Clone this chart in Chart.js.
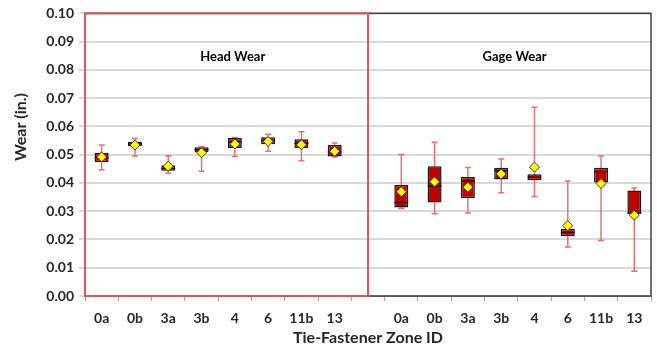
<!DOCTYPE html>
<html>
<head>
<meta charset="utf-8">
<script src="https://cdn.jsdelivr.net/npm/chart.js@4.4.1/dist/chart.umd.min.js"></script>
<style>
  html, body { margin: 0; padding: 0; background: #ffffff; }
  #wrap { width: 657px; height: 348px; position: relative; }
</style>
</head>
<body>
<div id="wrap"><canvas id="c" width="657" height="348"></canvas></div>
<script>
// Zone IDs: Head Wear group, a blank separator slot, then Gage Wear group
const categories = ['0a','0b','3a','3b','4','6','11b','13', '', '0a','0b','3a','3b','4','6','11b','13'];
const whiskerMin = [0.0447,0.0495,0.0434,0.0441,0.0494,0.0512,0.0479,0.0492, null, 0.0310,0.0291,0.0294,0.0365,0.0352,0.0173,0.0196,0.0088];
const quartile1  = [0.0474,0.0530,0.0443,0.0509,0.0524,0.0537,0.0524,0.0494, null, 0.0313,0.0331,0.0347,0.0412,0.0410,0.0211,0.0402,0.0291];
const medianVal  = [0.0490,0.0538,0.0452,0.0518,0.0545,0.0550,0.0540,0.0510, null, 0.0331,0.0389,0.0407,0.0444,0.0420,0.0225,0.0440,0.0293];
const quartile3  = [0.0507,0.0546,0.0463,0.0526,0.0559,0.0562,0.0555,0.0534, null, 0.0393,0.0459,0.0421,0.0454,0.0431,0.0238,0.0454,0.0373];
const whiskerMax = [0.0534,0.0557,0.0495,0.0529,0.0561,0.0572,0.0581,0.0541, null, 0.0501,0.0544,0.0455,0.0485,0.0668,0.0407,0.0495,0.0382];
const meanVal    = [0.0492,0.0534,0.0459,0.0507,0.0538,0.0547,0.0535,0.0512, null, 0.0369,0.0404,0.0385,0.0432,0.0456,0.0249,0.0398,0.0286];
const yTicks = [0.00,0.01,0.02,0.03,0.04,0.05,0.06,0.07,0.08,0.09,0.10];
const groupTitles = ['Head Wear', 'Gage Wear'];
const yTitle = 'Wear (in.)';
const xTitle = 'Tie-Fastener Zone ID';

const boxData = quartile1.map((q, i) => (q === null ? null : [q, quartile3[i]]));

const FONT = 'Lato, "Open Sans", "Liberation Sans", sans-serif';

const boxPlugin = {
  id: 'boxExtras',
  beforeDatasetsDraw(chart) {
    const ctx = chart.ctx;
    const x = chart.scales.x, y = chart.scales.y;
    const a = chart.chartArea;
    // group frames
    const split = x.getPixelForValue(8);
    ctx.save();
    ctx.lineWidth = 1.5;
    ctx.strokeStyle = '#404040';
    ctx.strokeRect(a.left, a.top, a.right - a.left, a.bottom - a.top);
    ctx.lineWidth = 2;
    ctx.strokeStyle = '#d9595a';
    ctx.strokeRect(a.left, a.top, split - a.left, a.bottom - a.top);
    // group titles
    ctx.fillStyle = '#000000';
    ctx.font = 'bold 13px ' + FONT;
    ctx.textAlign = 'center';
    ctx.textBaseline = 'middle';
    const ty = y.getPixelForValue(0.0848);
    ctx.fillText(groupTitles[0], a.left + (a.right - a.left) * 0.261, ty);
    ctx.fillText(groupTitles[1], a.left + (a.right - a.left) * 0.759, ty);
    // y axis title
    ctx.save();
    ctx.translate(21, y.getPixelForValue(0.0598));
    ctx.rotate(-Math.PI / 2);
    ctx.fillStyle = '#262626';
    ctx.font = 'bold 16px ' + FONT;
    ctx.fillText(yTitle, 0, 0);
    ctx.restore();
    // whiskers
    ctx.strokeStyle = 'rgba(224, 90, 90, 0.85)';
    ctx.lineWidth = 1.5;
    for (let i = 0; i < categories.length; i++) {
      if (whiskerMin[i] === null) continue;
      const px = x.getPixelForValue(i);
      const yMin = y.getPixelForValue(whiskerMin[i]);
      const yMax = y.getPixelForValue(whiskerMax[i]);
      ctx.beginPath();
      ctx.moveTo(px, yMin); ctx.lineTo(px, yMax);
      ctx.moveTo(px - 3, yMin); ctx.lineTo(px + 3, yMin);
      ctx.moveTo(px - 3, yMax); ctx.lineTo(px + 3, yMax);
      ctx.stroke();
    }
    ctx.restore();
  },
  afterDatasetDraw(chart, args) {
    if (args.index !== 0) return;
    const ctx = chart.ctx;
    const meta = chart.getDatasetMeta(0);
    const y = chart.scales.y;
    ctx.save();
    ctx.strokeStyle = '#3a0000';
    ctx.lineWidth = 1.2;
    meta.data.forEach((bar, i) => {
      if (medianVal[i] === null || !bar) return;
      const w = bar.width;
      const py = y.getPixelForValue(medianVal[i]);
      ctx.beginPath();
      ctx.moveTo(bar.x - w / 2, py);
      ctx.lineTo(bar.x + w / 2, py);
      ctx.stroke();
    });
    ctx.restore();
  }
};

new Chart(document.getElementById('c'), {
  type: 'bar',
  data: {
    labels: categories,
    datasets: [
      {
        label: 'Box',
        data: boxData,
        backgroundColor: '#c00000',
        borderColor: '#1a1a1a',
        borderWidth: 1.5,
        borderSkipped: false,
        barPercentage: 0.42,
        categoryPercentage: 1.0,
        order: 2
      },
      {
        type: 'line',
        label: 'Mean',
        data: meanVal,
        showLine: false,
        pointStyle: 'rectRot',
        pointRadius: 5,
        pointBackgroundColor: '#ffff00',
        pointBorderColor: '#3a3a3a',
        pointBorderWidth: 1,
        order: 1
      }
    ]
  },
  options: {
    responsive: false,
    animation: false,
    devicePixelRatio: 1,
    layout: { padding: { top: 12, right: 6, left: 0, bottom: 0 } },
    plugins: { legend: { display: false }, tooltip: { enabled: false } },
    scales: {
      x: {
        type: 'category',
        offset: true,
        grid: { display: true, drawOnChartArea: false, offset: true, color: '#a6a6a6', tickLength: 5 },
        border: { display: true, color: '#a6a6a6', width: 1 },
        ticks: {
          autoSkip: false, maxRotation: 0, color: '#262626', padding: 9,
          font: { family: FONT, size: 14, weight: 'bold' }
        },
        title: {
          display: true, text: xTitle, color: '#262626',
          font: { family: FONT, size: 16, weight: 'bold' }, padding: { top: 0, bottom: 1 }
        },
        afterFit(s) { s.height = 52; }
      },
      y: {
        min: 0, max: 0.10,
        afterBuildTicks(s) { s.ticks = yTicks.map(v => ({ value: v })); },
        grid: { color: '#d9d9d9', lineWidth: 2, tickLength: 6, drawTicks: true },
        border: { display: false },
        ticks: {
          color: '#262626', padding: 5,
          font: { family: FONT, size: 14, weight: 'bold' },
          callback: v => v.toFixed(2)
        },
        title: { display: false },
        afterFit(s) { s.width = 85; }
      }
    }
  },
  plugins: [boxPlugin]
});
</script>
</body>
</html>
